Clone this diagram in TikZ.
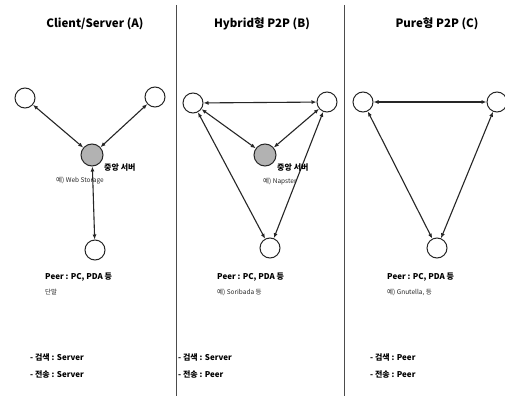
\documentclass[tikz,border=0pt]{standalone}
\usepackage{fontspec}
\setmainfont{Noto Sans CJK KR}
\usetikzlibrary{arrows.meta, positioning}

\begin{document}
\begin{tikzpicture}[
    x=1pt, y=-1pt,
    peer/.style = {circle, draw=black!85, line width=1pt, minimum size=20pt, inner sep=0pt},
    server/.style = {peer, fill=gray!60, minimum size=22pt},
    link/.style = {{Latex[length=5pt,width=4pt]}-{Latex[length=5pt,width=4pt]}, line width=1.1pt, black!85},
    sep/.style = {black!70, line width=0.9pt},
    ttl/.style = {font=\bfseries\fontsize{11.5}{13}\selectfont},
    lbl/.style = {anchor=west, inner sep=0pt, #1,% position
    font=\bfseries\fontsize{8}{10}\selectfont},
    sml/.style = {anchor=west, inner sep=0pt, font=\fontsize{6.5}{8}\selectfont, black!85}
    ]
    \useasboundingbox[fill=white] (0,0) rectangle (505,396);
    %
    \draw[sep] (176,5) -- (176,396);
    \draw[sep] (344,5) -- (344,396);
    %
    \node[ttl] (TitleA) at (95,24) {Client/Server (A)};
    \node[ttl] (TitleB) at (262,24) {Hybrid형 P2P (B)};
    \node[ttl] (TitleC) at (437,24) {Pure형 P2P (C)};
    %
    % client/server
    \node[peer] (AL) at (25,98) {};
    \node[peer] (AR) at (155,97) {};
    \node[server] (AS) at (92,155) {};
    \node[peer] (AB) at (95,250) {};
    \draw[link] (AL) -- (AS);
    \draw[link] (AR) -- (AS);
    \draw[link] (AS) -- (AB);
    \node[lbl] (ASname) at (104,168) {중앙 서버};
    \node[sml] (ASex) at (56,181) {예) Web Storage};
    %
    % hybrid
    \node[peer] (BL) at (193,103) {};
    \node[peer] (BR) at (327,102) {};
    \node[server] (BS) at (265,155) {};
    \node[peer] (BB) at (270,248) {};
    \draw[link] (BL) -- (BR);
    \draw[link] (BL) -- (BS);
    \draw[link] (BR) -- (BS);
    \draw[link] (BL) -- (BB);
    \draw[link] (BR) -- (BB);
    \node[lbl] (BSname) at (277,168) {중앙 서버};
    \node[sml] (BSex) at (263,182) {예) Napster};
    %
    % pure
    \node[peer] (CL) at (363,102) {};
    \node[peer] (CR) at (497,102) {};
    \node[peer] (CB) at (437,248) {};
    \draw[link] (CL) -- (CR);
    \draw[link] (CL) -- (CB);
    \draw[link] (CR) -- (CB);
    %
    \node[lbl] (APeer) at (45,277) {Peer : PC, PDA 등};
    \node[sml] (APeerex) at (45,292) {단말};
    \node[lbl] (BPeer) at (217,277) {Peer : PC, PDA 등};
    \node[sml] (BPeerex) at (217,292) {예) Soribada 등};
    \node[lbl] (CPeer) at (387,277) {Peer : PC, PDA 등};
    \node[sml] (CPeerex) at (387,292) {예) Gnutella, 등};
    %
    \node[lbl] (Afind) at (30,357) {- 검색 : Server};
    \node[lbl] (Asend) at (30,375) {- 전송 : Server};
    \node[lbl] (Bfind) at (178,357) {- 검색 : Server};
    \node[lbl] (Bsend) at (178,375) {- 전송 : Peer};
    \node[lbl] (Cfind) at (370,357) {- 검색 : Peer};
    \node[lbl] (Csend) at (370,375) {- 전송 : Peer};
\end{tikzpicture}
\end{document}
